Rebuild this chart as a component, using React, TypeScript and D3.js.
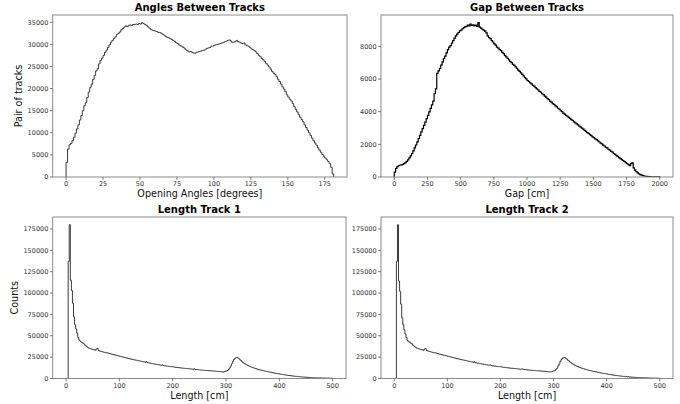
import React from "react";
import * as d3 from "d3";

// ---- Histogram contents ----
// Opening angle between track pairs, 1-degree bins starting at 0
const angleBinWidth = 1;
const angleCounts = [
  3300, 6300, 7300, 7600, 8200, 9000, 9900, 10900, 11800, 12900,
  13900, 15000, 16100, 16800, 18000, 19200, 20300, 21000, 22100, 23000,
  24000, 24500, 25600, 26400, 26900, 27500, 28200, 28700, 29300, 29900,
  30500, 30900, 31300, 31700, 32200, 32500, 32800, 33300, 33600, 33900,
  34200, 34000, 34300, 34400, 34300, 34500, 34500, 34600, 34500, 34700,
  34600, 34900, 34700, 34500, 34300, 34000, 33700, 33400, 33200, 33100,
  33000, 32900, 32700, 32700, 32500, 32300, 32100, 31800, 31600, 31500,
  31300, 31100, 30900, 30700, 30400, 30200, 29900, 29700, 29500, 29300,
  29000, 28700, 28500, 28300, 28400, 28200, 28000, 28000, 28200, 28300,
  28400, 28500, 28600, 28700, 28900, 29100, 29200, 29300, 29600, 29600,
  29800, 29900, 30000, 30100, 30200, 30300, 30400, 30600, 30700, 30900,
  31000, 30800, 30500, 30500, 30600, 30900, 30600, 30500, 30300, 30200,
  30300, 29900, 29700, 29600, 29300, 29000, 28800, 28600, 28300, 27900,
  27500, 27200, 26800, 26500, 26100, 25700, 25300, 24900, 24400, 23900,
  23500, 23200, 22700, 22100, 21600, 21000, 20400, 19900, 19300, 18600,
  18100, 17600, 17200, 16600, 15900, 15300, 14700, 14100, 13500, 13000,
  12500, 11800, 11200, 10600, 10000, 9400, 8800, 8200, 7700, 7200,
  6600, 6100, 5600, 5100, 4700, 4300, 3900, 3500, 3000, 2200,
  700,
];

// Gap between tracks, 10 cm bins from 0 to 2000 cm
const gapBinWidth = 10;
const gapCounts = [
  300, 530, 640, 690, 720, 740, 770, 820, 880, 960,
  1050, 1170, 1300, 1440, 1600, 1780, 1960, 2150, 2350, 2550,
  2760, 2960, 3160, 3360, 3570, 3780, 3990, 4200, 4420, 4650,
  5100, 5400, 6350, 6500, 6650, 6850, 7050, 7250, 7400, 7600,
  7800, 7950, 8050, 8200, 8350, 8500, 8650, 8750, 8850, 8950,
  9000, 9080, 9150, 9200, 9230, 9300, 9260, 9370, 9280, 9320,
  9250, 9310, 9220, 9450, 9180, 9120, 9050, 8990, 8930, 8830,
  8650, 8540, 8480, 8350, 8270, 8150, 8080, 7960, 7890, 7800,
  7740, 7630, 7560, 7430, 7360, 7270, 7180, 7070, 7010, 6900,
  6840, 6740, 6660, 6550, 6470, 6380, 6280, 6200, 6090, 6010,
  5910, 5850, 5760, 5700, 5610, 5560, 5470, 5400, 5330, 5250,
  5190, 5100, 5040, 4950, 4890, 4800, 4740, 4650, 4590, 4500,
  4450, 4360, 4300, 4210, 4150, 4060, 4000, 3910, 3850, 3770,
  3720, 3650, 3590, 3510, 3460, 3380, 3320, 3250, 3190, 3110,
  3060, 2990, 2930, 2850, 2800, 2720, 2670, 2590, 2540, 2460,
  2410, 2340, 2290, 2210, 2160, 2080, 2030, 1950, 1900, 1820,
  1780, 1700, 1650, 1570, 1520, 1440, 1390, 1310, 1260, 1190,
  1130, 1070, 1010, 950, 880, 820, 760, 700, 820, 860,
  560, 420, 330, 250, 190, 150, 110, 80, 60, 45,
  35, 25, 20, 15, 10, 8, 5, 4, 3, 2,
];

// Track lengths, 2 cm bins from 0 to 500 cm
const lengthBinWidth = 2;
const lengthTrack1 = [
  0, 0, 137000, 180000, 115000, 103000, 88000, 72000, 63000, 58000,
  53000, 48000, 45000, 43500, 42500, 41800, 41000, 39500, 38400, 37300,
  36300, 35600, 35200, 34700, 34200, 33900, 33500, 33100, 34600, 35200,
  33000, 32300, 31900, 31500, 31200, 30800, 30500, 30100, 30300, 29700,
  29300, 29000, 28600, 28300, 28000, 27700, 27300, 27100, 26700, 26400,
  26000, 25700, 25500, 25100, 24800, 24400, 24100, 23800, 23400, 23100,
  23000, 22600, 22400, 22000, 21800, 21500, 21300, 20900, 20700, 20300,
  20200, 19900, 19600, 19400, 19000, 19700, 18600, 18300, 18000, 17800,
  17500, 17300, 17000, 16900, 16500, 16400, 16100, 16000, 15700, 15500,
  15900, 15100, 14900, 14700, 14500, 14400, 14200, 14000, 13900, 13700,
  13800, 13400, 13200, 13100, 12900, 12700, 12600, 12400, 12300, 12100,
  12000, 11900, 11700, 11600, 11500, 11300, 11200, 11100, 10900, 10800,
  11300, 10600, 10500, 10400, 10200, 10100, 10000, 9800, 9700, 9600,
  9500, 9400, 9300, 9200, 9100, 9000, 8900, 8800, 8700, 8600,
  8500, 8400, 8300, 8200, 8100, 7900, 7700, 7600, 8000, 8700,
  8800, 9300, 10500, 12300, 14500, 17200, 20000, 22200, 23500, 24400,
  24600, 23800, 22800, 21600, 20500, 19400, 18400, 17500, 16700, 16000,
  15300, 14700, 14100, 13600, 13100, 12600, 12200, 11800, 11400, 11000,
  10600, 10300, 9900, 9600, 9300, 9000, 8700, 8400, 8200, 7900,
  7600, 7400, 7100, 6900, 6600, 6400, 6100, 5900, 5700, 5500,
  5200, 5000, 4800, 4600, 4400, 4200, 4000, 3800, 3600, 3500,
  3300, 3100, 3000, 2800, 2700, 2500, 2400, 2300, 2200, 2000,
  1900, 1800, 1700, 1600, 1550, 1450, 1350, 1300, 1200, 1150,
  1050, 1000, 950, 880, 830, 780, 730, 690, 640, 600,
  570, 530, 500, 470, 440, 410, 390, 360, 340, 320,
];
const lengthTrack2 = [
  0, 0, 137000, 180000, 114000, 102000, 87000, 71000, 63000, 57000,
  52000, 48000, 44500, 43000, 42800, 41500, 40800, 39200, 38300, 37000,
  36200, 35400, 35300, 34500, 34300, 33800, 33600, 33000, 34400, 35000,
  32900, 32400, 31800, 31600, 31100, 30900, 30400, 30200, 30200, 29800,
  29200, 29100, 28500, 28400, 27900, 27800, 27200, 27200, 26600, 26500,
  25900, 25800, 25400, 25200, 24700, 24500, 24000, 23900, 23300, 23200,
  22900, 22700, 22300, 22100, 21700, 21600, 21200, 21000, 20600, 20400,
  20100, 20000, 19500, 19500, 18900, 19600, 18500, 18400, 17900, 17900,
  17400, 17400, 16900, 17000, 16400, 16500, 16000, 16100, 15600, 15600,
  15800, 15200, 14800, 14800, 14400, 14500, 14100, 14100, 13800, 13800,
  13700, 13500, 13100, 13200, 12800, 12800, 12500, 12500, 12200, 12200,
  11900, 12000, 11600, 11700, 11400, 11400, 11100, 11200, 10800, 10900,
  11200, 10700, 10400, 10500, 10100, 10200, 9900, 9900, 9600, 9700,
  9400, 9500, 9200, 9300, 9000, 9100, 8800, 8900, 8600, 8700,
  8400, 8500, 8200, 8300, 8000, 8000, 7600, 7700, 7900, 8600,
  8900, 9200, 10600, 12200, 14600, 17100, 20100, 22100, 23600, 24300,
  24700, 23700, 22900, 21500, 20600, 19300, 18500, 17400, 16800, 15900,
  15400, 14600, 14200, 13500, 13200, 12500, 12300, 11700, 11500, 10900,
  10700, 10200, 10000, 9500, 9400, 8900, 8800, 8300, 8300, 7800,
  7700, 7300, 7200, 6800, 6700, 6300, 6200, 5800, 5800, 5400,
  5300, 4900, 4900, 4500, 4500, 4100, 4100, 3700, 3700, 3400,
  3400, 3000, 3100, 2700, 2800, 2400, 2500, 2200, 2300, 1900,
  2000, 1700, 1800, 1500, 1600, 1400, 1400, 1250, 1250, 1100,
  1100, 950, 1000, 850, 870, 750, 760, 660, 660, 580,
  590, 510, 520, 450, 460, 400, 400, 350, 350, 310,
];

// Tick values for each axis
const angleXTicks = [0, 25, 50, 75, 100, 125, 150, 175];
const angleYTicks = [0, 5000, 10000, 15000, 20000, 25000, 30000, 35000];
const gapXTicks = [0, 250, 500, 750, 1000, 1250, 1500, 1750, 2000];
const gapYTicks = [0, 2000, 4000, 6000, 8000];
const lengthXTicks = [0, 100, 200, 300, 400, 500];
const lengthYTicks = [0, 25000, 50000, 75000, 100000, 125000, 150000, 175000];

const FONT = "'DejaVu Sans', Verdana, sans-serif";

type PanelProps = {
  id: string;
  left: number;
  top: number;
  width: number;
  height: number;
  counts: number[];
  binWidth: number;
  title: string;
  xLabel: string;
  yLabel?: string;
  yLabelOffset?: number;
  xTicks: number[];
  yTicks: number[];
  stroke: string;
  strokeWidth: number;
};

function HistPanel(p: PanelProps) {
  const n = p.counts.length;
  const xMin = 0;
  const xMax = n * p.binWidth;
  const xPad = (xMax - xMin) * 0.05;
  const yMax = d3.max(p.counts) as number;

  const x = d3
    .scaleLinear()
    .domain([xMin - xPad, xMax + xPad])
    .range([p.left, p.left + p.width]);
  const y = d3
    .scaleLinear()
    .domain([0, yMax * 1.05])
    .range([p.top + p.height, p.top]);

  // outline of a step histogram: baseline -> bins -> baseline
  const pts: [number, number][] = [[xMin, 0]];
  p.counts.forEach((c, i) => pts.push([xMin + i * p.binWidth, c]));
  pts.push([xMax, p.counts[n - 1]]);
  pts.push([xMax, 0]);
  const line = d3
    .line<[number, number]>()
    .x((d) => x(d[0]))
    .y((d) => y(d[1]))
    .curve(d3.curveStepAfter);

  const bottom = p.top + p.height;
  const tickLen = 2.8;
  const tickColor = "#555";

  return (
    <g>
      <clipPath id={`clip-${p.id}`}>
        <rect x={p.left} y={p.top - 1} width={p.width} height={p.height + 1} />
      </clipPath>
      <path
        d={line(pts) ?? ""}
        fill="none"
        stroke={p.stroke}
        strokeWidth={p.strokeWidth}
        clipPath={`url(#clip-${p.id})`}
      />
      <rect
        x={p.left}
        y={p.top}
        width={p.width}
        height={p.height}
        fill="none"
        stroke="#8a8a8a"
        strokeWidth={1}
      />
      {p.xTicks.map((t) => (
        <g key={`x${t}`}>
          <line
            x1={x(t)}
            x2={x(t)}
            y1={bottom}
            y2={bottom + tickLen}
            stroke={tickColor}
            strokeWidth={0.8}
          />
          <text
            x={x(t)}
            y={bottom + tickLen + 6.6}
            textAnchor="middle"
            fontFamily={FONT}
            fontSize={6.5}
            fill="#333"
          >
            {t}
          </text>
        </g>
      ))}
      {p.yTicks.map((t) => (
        <g key={`y${t}`}>
          <line
            x1={p.left - tickLen}
            x2={p.left}
            y1={y(t)}
            y2={y(t)}
            stroke={tickColor}
            strokeWidth={0.8}
          />
          <text
            x={p.left - tickLen - 1.6}
            y={y(t) + 2.3}
            textAnchor="end"
            fontFamily={FONT}
            fontSize={6.5}
            fill="#333"
          >
            {t}
          </text>
        </g>
      ))}
      <text
        x={p.left + p.width / 2}
        y={p.top - 4}
        textAnchor="middle"
        fontFamily={FONT}
        fontSize={10}
        fontWeight="bold"
        fill="#000"
      >
        {p.title}
      </text>
      <text
        x={p.left + p.width / 2}
        y={bottom + 20.3}
        textAnchor="middle"
        fontFamily={FONT}
        fontSize={9.6}
        fill="#111"
      >
        {p.xLabel}
      </text>
      {p.yLabel && (
        <text
          transform={`translate(${p.left - (p.yLabelOffset ?? 31)},${p.top + p.height / 2}) rotate(-90)`}
          textAnchor="middle"
          fontFamily={FONT}
          fontSize={9.6}
          fill="#111"
        >
          {p.yLabel}
        </text>
      )}
    </g>
  );
}

export default function App() {
  return (
    <svg
      width={680}
      height={404}
      viewBox="0 0 680 404"
      style={{ position: "fixed", left: 0, top: 0, background: "#fff" }}
    >
      <rect width={680} height={404} fill="#fff" />
      <HistPanel
        id="angles"
        left={52.7}
        top={15}
        width={294.3}
        height={162}
        counts={angleCounts}
        binWidth={angleBinWidth}
        title="Angles Between Tracks"
        xLabel="Opening Angles [degrees]"
        yLabel="Pair of tracks"
        yLabelOffset={31}
        xTicks={angleXTicks}
        yTicks={angleYTicks}
        stroke="#3a3a3a"
        strokeWidth={1}
      />
      <HistPanel
        id="gap"
        left={381}
        top={15}
        width={292}
        height={162}
        counts={gapCounts}
        binWidth={gapBinWidth}
        title="Gap Between Tracks"
        xLabel="Gap [cm]"
        xTicks={gapXTicks}
        yTicks={gapYTicks}
        stroke="#000"
        strokeWidth={1.2}
      />
      <HistPanel
        id="len1"
        left={52.7}
        top={217}
        width={293.3}
        height={161.5}
        counts={lengthTrack1}
        binWidth={lengthBinWidth}
        title="Length Track 1"
        xLabel="Length [cm]"
        yLabel="Counts"
        yLabelOffset={34.5}
        xTicks={lengthXTicks}
        yTicks={lengthYTicks}
        stroke="#3a3a3a"
        strokeWidth={1}
      />
      <HistPanel
        id="len2"
        left={381}
        top={217}
        width={292}
        height={161.5}
        counts={lengthTrack2}
        binWidth={lengthBinWidth}
        title="Length Track 2"
        xLabel="Length [cm]"
        xTicks={lengthXTicks}
        yTicks={lengthYTicks}
        stroke="#3a3a3a"
        strokeWidth={1}
      />
    </svg>
  );
}
